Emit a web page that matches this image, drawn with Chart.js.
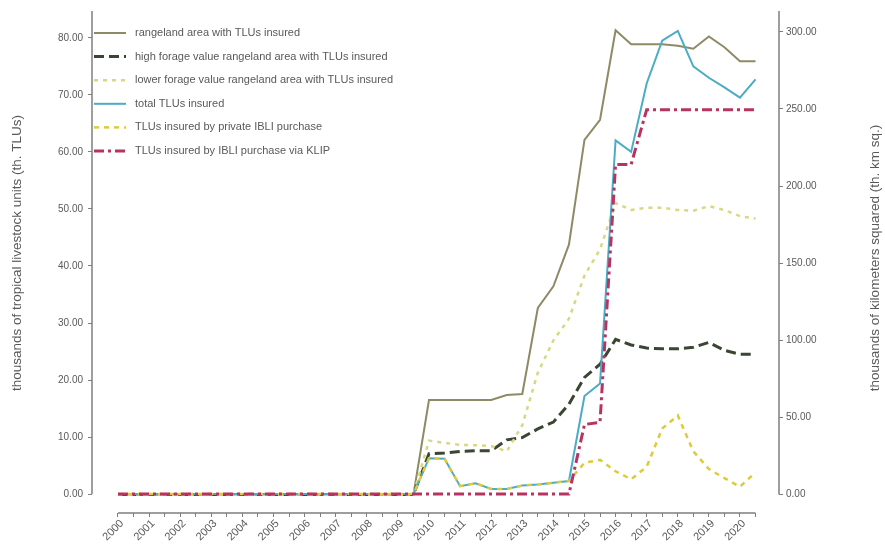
<!DOCTYPE html>
<html>
<head>
<meta charset="utf-8">
<title>IBLI coverage</title>
<script src="https://cdn.jsdelivr.net/npm/chart.js@4.4.1/dist/chart.umd.min.js"></script>
<style>
  html, body { margin: 0; padding: 0; background: #ffffff; }
  #wrap { width: 885px; height: 553px; }
</style>
</head>
<body>
<div id="wrap"><canvas id="chart"></canvas></div>
<script>
const periods = [
    "2000", "2000 H2", "2001", "2001 H2", "2002", "2002 H2", "2003", "2003 H2",
    "2004", "2004 H2", "2005", "2005 H2", "2006", "2006 H2", "2007", "2007 H2",
    "2008", "2008 H2", "2009", "2009 H2", "2010", "2010 H2", "2011", "2011 H2",
    "2012", "2012 H2", "2013", "2013 H2", "2014", "2014 H2", "2015", "2015 H2",
    "2016", "2016 H2", "2017", "2017 H2", "2018", "2018 H2", "2019", "2019 H2",
    "2020", "2020 H2"
];

const leftTicks  = [0, 10, 20, 30, 40, 50, 60, 70, 80];
const rightTicks = [0, 50, 100, 150, 200, 250, 300];

// thousands of km sq (right axis)
const rangelandArea = [
    0, 0, 0, 0, 0, 0, 0, 0, 0, 0, 0, 0, 0, 0, 0, 0, 0, 0, 0, 0,
    61.3, 61.3, 61.3, 61.3, 61.3, 64.5, 65.2, 121, 135, 162,
    230, 243, 301, 292, 292, 292, 291, 289, 297, 290, 281, 281
];
const highForageArea = [
    0, 0, 0, 0, 0, 0, 0, 0, 0, 0, 0, 0, 0, 0, 0, 0, 0, 0, 0, 0,
    26.5, 27, 28, 28.4, 28.4, 35.5, 37, 42.6, 47, 58.7,
    76, 84.5, 100.6, 97, 95, 94.5, 94.5, 95.5, 98.7, 93.5, 91, 91
];
const lowerForageArea = [
    0, 0, 0, 0, 0, 0, 0, 0, 0, 0, 0, 0, 0, 0, 0, 0, 0, 0, 0, 0,
    35, 33.5, 32.3, 32, 31.5, 28, 45, 79, 100, 114,
    142, 159, 189, 184.5, 186, 186, 184.5, 184, 187, 184.5, 180.5, 179
];

// thousands of TLUs (left axis)
const totalTLUs = [
    0, 0, 0, 0, 0, 0, 0, 0, 0, 0, 0, 0, 0, 0, 0, 0, 0, 0, 0, 0,
    6.3, 6.2, 1.4, 1.9, 0.9, 0.9, 1.5, 1.7, 2.0, 2.3,
    17.2, 19.4, 62, 60, 72, 79.5, 81.2, 75, 73, 71.3, 69.5, 72.7
];
const privateTLUs = [
    0, 0, 0, 0, 0, 0, 0, 0, 0, 0, 0, 0, 0, 0, 0, 0, 0, 0, 0, 0,
    6.3, 6.2, 1.4, 1.9, 0.9, 0.9, 1.5, 1.7, 2.0, 2.3,
    5.5, 6.0, 4.0, 2.6, 4.8, 11.5, 13.8, 7.5, 4.4, 2.8, 1.3, 3.8
];
const klipTLUs = [
    0, 0, 0, 0, 0, 0, 0, 0, 0, 0, 0, 0, 0, 0, 0, 0, 0, 0, 0, 0,
    0, 0, 0, 0, 0, 0, 0, 0, 0, 0,
    12.2, 12.6, 57.8, 57.8, 67.4, 67.4, 67.4, 67.4, 67.4, 67.4, 67.4, 67.4
];

const textColor = "#595959";
const axisColor = "#7f7f7f";
const fontFamily = "'Liberation Sans', Arial, sans-serif";

/**
 * Turns a series into {x, y} points, x being the half-year index.
 */
function toPoints(values)
{
    let points = [];
    for(let i = 0; i < values.length; i++)
    {
        points.push({ x: i, y: values[i] });
    }
    return points;
}

/**
 * Draws the axis lines, the two axis titles and the legend inside the plot.
 */
const decorations = {
    id: "decorations",
    afterDraw(chart)
    {
        const c = chart.ctx;
        const area = chart.chartArea;
        const xs = chart.scales.x;
        const yl = chart.scales.yLeft;
        const yr = chart.scales.yRight;

        c.save();
        c.strokeStyle = axisColor;
        c.lineWidth = 1.5;
        c.beginPath();
        c.moveTo(area.left, area.top);
        c.lineTo(area.left, yl.getPixelForValue(0));
        c.moveTo(area.right, area.top);
        c.lineTo(area.right, yr.getPixelForValue(0));
        c.moveTo(xs.getPixelForValue(0), area.bottom);
        c.lineTo(xs.getPixelForValue(periods.length - 1), area.bottom);
        c.stroke();

        // axis titles, both reading bottom to top
        c.fillStyle = textColor;
        c.font = "13.5px " + fontFamily;
        c.textAlign = "center";
        c.textBaseline = "middle";
        c.save();
        c.translate(17, 253);
        c.rotate(-Math.PI / 2);
        c.fillText("thousands of tropical livestock units (th. TLUs)", 0, 0);
        c.restore();
        c.save();
        c.translate(875, 258);
        c.rotate(-Math.PI / 2);
        c.fillText("thousands of kilometers squared (th. km sq.)", 0, 0);
        c.restore();

        // legend
        c.font = "11px " + fontFamily;
        c.textAlign = "left";
        let sets = chart.data.datasets;
        for(let i = 0; i < sets.length; i++)
        {
            let y = 33 + i * 23.6;
            c.save();
            c.strokeStyle = sets[i].borderColor;
            c.lineWidth = sets[i].borderWidth;
            c.setLineDash(sets[i].borderDash || []);
            c.beginPath();
            c.moveTo(94, y);
            c.lineTo(126, y);
            c.stroke();
            c.restore();
            c.fillText(sets[i].label, 135, y);
        }
        c.restore();
    }
};

function drawChart()
{
    const chartCanvas = document.getElementById("chart");

    let myChart = new Chart(chartCanvas, {
        type: "line",
        data: {
            datasets: [
                {
                    label: "rangeland area with TLUs insured",
                    data: toPoints(rangelandArea),
                    yAxisID: "yRight",
                    borderColor: "#8f8a66",
                    borderWidth: 2,
                    order: 6
                },
                {
                    label: "high forage value rangeland area with TLUs insured",
                    data: toPoints(highForageArea),
                    yAxisID: "yRight",
                    borderColor: "#3a4631",
                    borderWidth: 3,
                    borderDash: [10, 5],
                    order: 5
                },
                {
                    label: "lower forage value rangeland area with TLUs insured",
                    data: toPoints(lowerForageArea),
                    yAxisID: "yRight",
                    borderColor: "#d8d884",
                    borderWidth: 2.5,
                    borderDash: [4, 5],
                    order: 4
                },
                {
                    label: "total TLUs insured",
                    data: toPoints(totalTLUs),
                    yAxisID: "yLeft",
                    borderColor: "#4bacc6",
                    borderWidth: 2,
                    order: 3
                },
                {
                    label: "TLUs insured by private IBLI purchase",
                    data: toPoints(privateTLUs),
                    yAxisID: "yLeft",
                    borderColor: "#dccb3c",
                    borderWidth: 2.5,
                    borderDash: [5, 5],
                    order: 2
                },
                {
                    label: "TLUs insured by IBLI purchase via KLIP",
                    data: toPoints(klipTLUs),
                    yAxisID: "yLeft",
                    borderColor: "#b83460",
                    borderWidth: 3,
                    borderDash: [10, 4, 3, 4],
                    order: 1
                }
            ]
        },
        options: {
            responsive: true,
            maintainAspectRatio: false,
            animation: false,
            layout: { padding: { top: 8, left: 0, right: 0, bottom: 0 } },
            elements: {
                point: { radius: 0 },
                line: { tension: 0, borderCapStyle: "butt" }
            },
            plugins: {
                legend: { display: false },
                tooltip: { enabled: false }
            },
            scales: {
                x: {
                    type: "linear",
                    position: "bottom",
                    min: -1.672,
                    max: 42.51,
                    border: { display: false },
                    grid: {
                        drawOnChartArea: false,
                        drawTicks: true,
                        tickLength: 4,
                        color: axisColor,
                        lineWidth: 1
                    },
                    afterBuildTicks: (scale) => {
                        scale.ticks = periods.map((p, i) => ({ value: i }));
                    },
                    afterFit: (scale) => { scale.height = 40; },
                    ticks: {
                        autoSkip: false,
                        minRotation: 45,
                        maxRotation: 45,
                        padding: 0,
                        labelOffset: 4,
                        color: textColor,
                        font: { family: fontFamily, size: 11 },
                        callback: (value) => {
                            let p = periods[value];
                            return (p && p.indexOf(" ") < 0) ? p : "";
                        }
                    }
                },
                yLeft: {
                    type: "linear",
                    position: "left",
                    min: -3.31,
                    max: 84.7,
                    border: { display: false },
                    grid: {
                        drawOnChartArea: false,
                        tickLength: 4,
                        color: axisColor
                    },
                    afterBuildTicks: (scale) => {
                        scale.ticks = leftTicks.map((v) => ({ value: v }));
                    },
                    afterFit: (scale) => { scale.width = 92; },
                    ticks: {
                        padding: 5,
                        color: textColor,
                        font: { family: fontFamily, size: 10 },
                        callback: (value) => Number(value).toFixed(2)
                    }
                },
                yRight: {
                    type: "linear",
                    position: "right",
                    min: -11.92,
                    max: 313.5,
                    border: { display: false },
                    grid: {
                        drawOnChartArea: false,
                        tickLength: 4,
                        color: axisColor
                    },
                    afterBuildTicks: (scale) => {
                        scale.ticks = rightTicks.map((v) => ({ value: v }));
                    },
                    afterFit: (scale) => { scale.width = 106; },
                    ticks: {
                        padding: 3,
                        color: textColor,
                        font: { family: fontFamily, size: 10 },
                        callback: (value) => Number(value).toFixed(2)
                    }
                }
            }
        },
        plugins: [decorations]
    });
}

drawChart();
</script>
</body>
</html>
